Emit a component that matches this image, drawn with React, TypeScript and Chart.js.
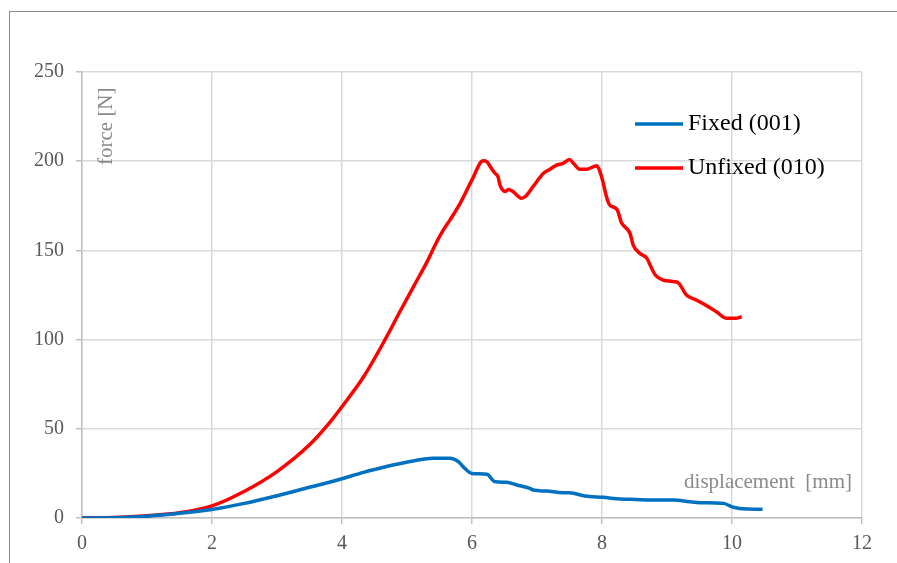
import React, { useEffect, useRef } from "react";
import { Chart, registerables } from "chart.js";

Chart.register(...registerables);

const fixedLabel = "Fixed (001)";
const unfixedLabel = "Unfixed (010)";
const xTitle = "displacement  [mm]";
const yTitle = "force [N]";

const fixedX = [0, 0.5, 1, 1.5, 2, 2.5, 3, 3.5, 3.82, 4, 4.33, 4.5, 4.84, 5.1, 5.4, 5.66, 5.79, 5.89, 6.0, 6.23, 6.35, 6.53, 6.69, 6.89, 6.94, 7.15, 7.4, 7.5, 7.74, 8.02, 8.22, 8.43, 8.74, 9.1, 9.35, 9.51, 9.87, 10.02, 10.23, 10.47];
const fixedY = [0, 0.2, 1, 2.6, 4.8, 8.2, 12.5, 17.2, 20.2, 22, 25.6, 27.2, 30.1, 32, 33.5, 33.5, 31.6, 27.8, 25, 24.5, 20.4, 20, 18.5, 16.6, 15.7, 15.1, 14.2, 14.2, 12.3, 11.6, 10.8, 10.5, 10.1, 10.1, 9.1, 8.6, 8.2, 6, 5, 4.9];

const unfixedX = [0, 0.5, 1, 1.5, 2, 2.5, 3, 3.5, 3.8, 4, 4.33, 4.66, 4.89, 5.1, 5.3, 5.46, 5.56, 5.66, 5.82, 6.0, 6.17, 6.23, 6.28, 6.35, 6.4, 6.43, 6.51, 6.56, 6.63, 6.76, 6.82, 6.94, 7.1, 7.2, 7.3, 7.4, 7.5, 7.56, 7.66, 7.76, 7.92, 7.97, 8.02, 8.07, 8.12, 8.23, 8.3, 8.43, 8.48, 8.58, 8.69, 8.74, 8.82, 8.94, 9.1, 9.18, 9.3, 9.45, 9.61, 9.76, 9.92, 10.05, 10.15];
const unfixedY = [0, 0.3, 1.3, 2.9, 6.8, 15, 26, 41, 53, 62.4, 79, 99.8, 115.6, 129.7, 143, 155, 161.5, 167, 176.5, 189.5, 200.3, 199.7, 197, 193.4, 191.3, 186.7, 183, 184.2, 183, 179.3, 180.2, 185.8, 193.2, 195.5, 197.8, 198.8, 201, 198.8, 195.5, 195.5, 197.4, 194, 187.6, 180, 175.4, 173, 165.5, 159.6, 153, 148.4, 145.6, 141.8, 136.2, 133.4, 132.5, 131.6, 125, 122.2, 119, 115.6, 111.9, 111.9, 112.8];

const xMin = 0, xMax = 12, xStep = 2;
const yMin = 0, yMax = 250, yStep = 50;

const FONT = "'Liberation Serif', 'Times New Roman', serif";

const decorPlugin = {
  id: "decor",
  beforeDraw(chart: any) {
    const ctx = chart.ctx;
    ctx.save();
    ctx.fillStyle = "#ffffff";
    ctx.fillRect(0, 0, chart.width, chart.height);
    ctx.strokeStyle = "#8c8c8c";
    ctx.lineWidth = 1;
    ctx.strokeRect(9.5, 11.5, chart.width + 20, chart.height + 20);
    ctx.restore();
  },
  afterDraw(chart: any) {
    const ctx = chart.ctx;
    const area = chart.chartArea;
    ctx.save();
    ctx.fillStyle = "#8a8a8a";
    ctx.font = `21px ${FONT}`;
    ctx.textAlign = "right";
    ctx.textBaseline = "alphabetic";
    ctx.fillText(xTitle, area.right - 10, area.bottom - 30);
    ctx.save();
    ctx.translate(area.left + 30, area.top + 93);
    ctx.rotate(-Math.PI / 2);
    ctx.textAlign = "left";
    ctx.fillText(yTitle, 0, 0);
    ctx.restore();
    const items = chart.data.datasets;
    ctx.font = `24px ${FONT}`;
    ctx.textAlign = "left";
    ctx.textBaseline = "middle";
    items.forEach((ds: any, i: number) => {
      const y = area.top + 52 + i * 44;
      const x0 = area.left + 553;
      ctx.strokeStyle = ds.borderColor;
      ctx.lineWidth = 3.5;
      ctx.beginPath();
      ctx.moveTo(x0, y);
      ctx.lineTo(x0 + 48, y);
      ctx.stroke();
      ctx.fillStyle = "#000000";
      ctx.fillText(ds.label, x0 + 53, y);
    });
    ctx.restore();
  },
};

export default function App() {
  const ref = useRef<HTMLCanvasElement>(null);
  useEffect(() => {
    if (!ref.current) return;
    const toPts = (xs: number[], ys: number[]) => xs.map((x, i) => ({ x, y: ys[i] }));
    const chart = new Chart(ref.current, {
      type: "scatter",
      data: {
        datasets: [
          {
            label: fixedLabel,
            data: toPts(fixedX, fixedY),
            showLine: true,
            borderColor: "#0070C0",
            backgroundColor: "#0070C0",
            borderWidth: 3.5,
            pointRadius: 0,
            cubicInterpolationMode: "monotone",
          },
          {
            label: unfixedLabel,
            data: toPts(unfixedX, unfixedY),
            showLine: true,
            borderColor: "#FF0000",
            backgroundColor: "#FF0000",
            borderWidth: 3.5,
            pointRadius: 0,
            cubicInterpolationMode: "monotone",
          },
        ],
      },
      options: {
        animation: false,
        responsive: false,
        maintainAspectRatio: false,
        layout: { padding: { left: 0, right: 35, top: 72, bottom: 0 } },
        plugins: { legend: { display: false }, tooltip: { enabled: false } },
        scales: {
          x: {
            type: "linear",
            min: xMin,
            max: xMax,
            afterFit: (s: any) => { s.height = 45; },
            ticks: { stepSize: xStep, color: "#595959", font: { family: FONT, size: 20 }, padding: 8 },
            grid: { color: "#d9d9d9", lineWidth: 1.5, tickLength: 6, drawTicks: true, tickColor: "#bfbfbf" },
            border: { color: "#bfbfbf", width: 1.5 },
          },
          y: {
            type: "linear",
            min: yMin,
            max: yMax,
            afterFit: (s: any) => { s.width = 82; },
            ticks: { stepSize: yStep, color: "#595959", font: { family: FONT, size: 20 }, padding: 12 },
            grid: { color: "#d9d9d9", lineWidth: 1.5, tickLength: 6, drawTicks: true, tickColor: "#bfbfbf" },
            border: { color: "#bfbfbf", width: 1.5 },
          },
        },
      },
      plugins: [decorPlugin],
    });
    return () => chart.destroy();
  }, []);
  return (
    <div style={{ position: "absolute", left: 0, top: 0, width: 897, height: 563 }}>
      <canvas ref={ref} width={897} height={563} style={{ display: "block" }} />
    </div>
  );
}
